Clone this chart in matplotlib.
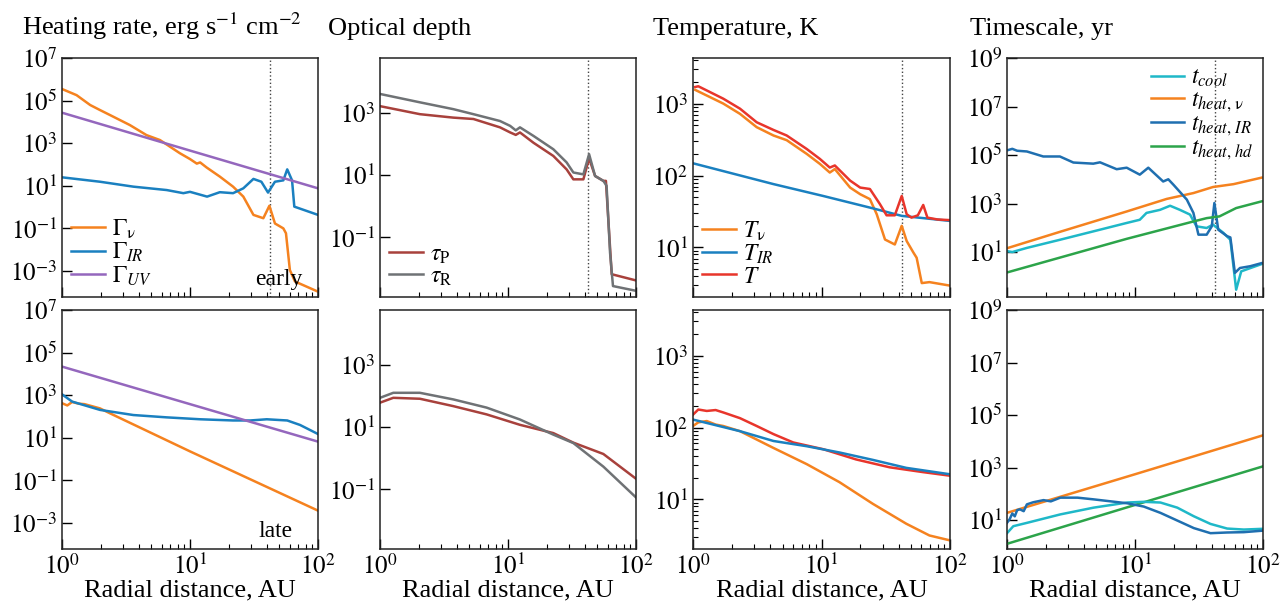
import matplotlib
matplotlib.use("Agg")
import matplotlib.pyplot as plt

plt.rcParams["font.family"] = ["Liberation Serif", "DejaVu Serif"]
plt.rcParams["mathtext.fontset"] = "stix"

# ---- data (r in AU) ----
# Heating rate, early
r_gnu_e = [1.0, 1.3, 1.66, 1.98, 2.37, 3.39, 4.57, 5.83, 8.32, 10.0, 11.3, 12.0, 13.5, 17.1, 21.7,
           26.1, 31.3, 37.4, 41.7, 46.1, 53.6, 56.2, 60.3, 66.1, 100]
g_nu_e = [3.5e5, 1.8e5, 6.2e4, 3.6e4, 2.1e4, 7.1e3, 2.4e3, 1.4e3, 340, 180, 110, 125, 72, 27, 9.1,
          3.1, 0.43, 0.30, 1.15, 0.17, 0.10, 0.059, 1.1e-3, 3.2e-4, 1.07e-4]
r_gir_e = [1.0, 1.98, 3.61, 6.58, 8.87, 10.0, 13.6, 17.1, 21.7, 26.1, 31.3, 36.1, 40.7, 46.1,
           53.6, 57.5, 62.7, 65.3, 100]
g_ir_e = [25, 15.5, 9.1, 6.3, 4.5, 5.2, 3.1, 5.0, 4.5, 7.6, 21, 15.5, 4.8, 15.5,
          18, 59, 18, 1.05, 0.43]
r_guv_e = [1.0, 10.0, 100]
g_uv_e = [2.7e4, 450, 7.6]

# Heating rate, late
r_gnu_l = [1.0, 1.1, 1.2, 1.35, 1.5, 1.98, 2.37, 10.0, 100]
g_nu_l = [420, 330, 480, 400, 380, 240, 141, 2.3, 3.8e-3]
r_gir_l = [1.0, 1.2, 1.98, 3.61, 6.58, 12.0, 21.7, 29.5, 39.8, 57.5, 72.4, 100]
g_ir_l = [1100, 500, 204, 117, 91, 74, 65, 65, 74, 65, 40, 15]
r_guv_l = [1.0, 10.0, 100]
g_uv_l = [2.2e4, 380, 6.6]

# Optical depth, early
r_tau_e = [1.02, 2.05, 3.74, 5.37, 8.66, 10.4, 11.5, 12.4, 15.8, 22.6, 28.7, 32.4, 38.8, 43.0,
           47.9, 55.6, 58.9, 62.7, 66.1, 100]
tau_r_e = [4100, 2240, 1350, 930, 560, 390, 280, 350, 186, 69, 26, 12.3, 10.7, 48,
           9.5, 6.6, 4.6, 0.032, 2.7e-3, 1.9e-3]
r_taup_e = [1.02, 2.05, 3.74, 5.37, 8.66, 10.4, 11.5, 12.4, 15.8, 22.6, 28.7, 32.4, 38.8, 43.0,
            47.9, 55.6, 58.2, 64.6, 100]
tau_p_e = [1660, 930, 720, 650, 350, 240, 200, 240, 112, 42, 15.5, 7.4, 7.4, 35,
           9.5, 6.6, 6.6, 6.5e-3, 4.1e-3]

# Optical depth, late
r_tau_l = [1.0, 1.27, 2.05, 3.74, 6.81, 12.4, 22.6, 32.4, 55.6, 100]
tau_r_l = [89, 129, 129, 79, 43, 17.8, 5.8, 3.1, 0.54, 0.055]
tau_p_l = [62, 89, 83, 48, 26, 12.0, 6.5, 3.2, 1.38, 0.22]

# Temperature, early
r_t_e = [1.04, 1.1, 1.72, 2.32, 3.13, 4.23, 5.36, 7.67, 9.72, 11.6, 12.7, 16.7, 20.0, 23.8,
         28.5, 32.1, 37.2, 42.1, 46.0, 50.1, 56.2, 61.9, 66.7, 80.0, 100]
t_e = [1700, 1740, 1170, 850, 550, 430, 360, 234, 170, 129, 138, 85, 68, 65,
       40, 28, 28, 52, 29, 26, 28, 39, 26, 24.5, 24]
r_tnu_e = [1.04, 1.72, 2.32, 3.13, 4.23, 5.36, 7.67, 9.72, 11.6, 12.7, 16.7, 20.0, 23.8, 26.9,
           31.2, 37.2, 42.1, 46.0, 51.9, 55.0, 60.3, 69.2, 100]
t_nu_e = [1550, 1000, 720, 470, 360, 310, 200, 145, 110, 123, 68, 55, 47, 29,
          12.9, 11.0, 20, 12.3, 8.5, 7.2, 3.2, 3.3, 2.95]
r_tir_e = [1.0, 4.23, 10.3, 25.1, 42.1, 100]
t_ir_e = [148, 76, 52, 35, 27.5, 23.4]

# Temperature, late
r_t_l = [1.0, 1.1, 1.28, 1.5, 1.72, 2.32, 3.13, 4.23, 6.03, 10.3, 18.6, 33.9, 61.7, 100]
t_l = [151, 178, 170, 175, 162, 135, 105, 81, 62, 50, 36, 28, 24, 21.4]
r_tir_l = [1.0, 2.32, 4.23, 7.67, 13.8, 25.1, 45.7, 100]
t_ir_l = [129, 89, 65, 55, 45, 35.5, 27.5, 22.4]
r_tnu_l = [1.0, 1.1, 1.28, 1.5, 1.72, 2.32, 4.23, 7.67, 13.8, 25.1, 45.7, 69.2, 100]
t_nu_l = [105, 118, 123, 110, 105, 89, 52, 31, 17.4, 8.7, 4.6, 3.16, 2.7]

# Timescale, early
r_tir_h_e = [1.02, 1.1, 1.2, 1.43, 1.92, 2.59, 3.3, 4.72, 5.33, 7.19, 8.61, 10.9, 12.7, 16.6,
             18.2, 20.0, 25.4, 28.6, 31.3, 36.3, 39.8, 41.7, 44.7, 52.5, 55.6, 60.3, 66.1,
             79.4, 97.7]
th_ir_e = [1.6e5, 1.8e5, 1.5e5, 1.4e5, 8.7e4, 8.7e4, 4.9e4, 4.4e4, 5.0e4, 2.6e4, 3.0e4, 1.55e4,
           3.0e4, 8.1e3, 1.0e4, 5.9e3, 1.45e3, 410, 52, 52, 115, 1050, 83, 45, 40, 1.38, 2.2,
           2.6, 3.5]
r_tcool_e = [1.02, 1.1, 1.43, 2.59, 4.72, 8.61, 10.9, 12.3, 15.7, 18.8, 22.4, 26.9, 30.2, 36.3,
             40.7, 49.0, 55.6, 61.7, 67.6, 97.7]
t_cool_e = [10.7, 10, 14.8, 32, 71, 158, 214, 410, 550, 810, 550, 350, 115, 98,
            135, 62, 32, 0.28, 1.6, 3.2]
r_thnu_e = [1.02, 2.59, 8.61, 17.7, 28.6, 40.7, 58.9, 97.7]
th_nu_e = [14.8, 68, 470, 1550, 2700, 4800, 6300, 1.17e4]
r_thhd_e = [1.02, 8.61, 28.6, 36.3, 45.7, 61.7, 97.7]
th_hd_e = [1.48, 35, 182, 250, 295, 650, 1230]

# Timescale, late
r_thnu_l = [1.0, 10.0, 100]
th_nu_l = [19, 560, 1.7e4]
r_thhd_l = [1.0, 10.0, 100]
th_hd_l = [1.26, 38, 1120]
r_tcool_l = [1.0, 1.12, 1.43, 2.61, 4.75, 8.71, 11.7, 15.8, 21.4, 28.8, 38.9, 52.5, 70.8, 100]
t_cool_l = [3.2, 5.9, 7.9, 16.6, 30, 47, 50, 47, 30, 14.1, 7.2, 4.8, 4.4, 4.7]
r_thir_l = [1.0, 1.05, 1.1, 1.15, 1.2, 1.26, 1.35, 1.43, 1.6, 1.93, 2.2, 2.61, 3.55, 4.75, 8.71,
            11.7, 15.8, 28.8, 38.9, 52.5, 70.8, 100]
th_ir_l = [7.9, 11, 18, 14, 24, 26, 22, 40, 48, 58, 52, 72, 72, 62, 44,
           33, 19, 5.0, 3.2, 3.4, 3.5, 4.0]

r_marker = 42  # dotted vertical line (early)

# ---- colours ----
c_orange = "#f5821f"
c_blue = "#1a80c0"
c_purple = "#9467bd"
c_red = "#e8352b"
c_brown = "#a8413c"
c_grey = "#6f7275"
c_cyan = "#1fb8c8"
c_dblue = "#1f6fb0"
c_green = "#2ca44a"

W, H = 1282, 605
fig = plt.figure(figsize=(W / 100, H / 100), dpi=100)

cols = [(62, 318), (380, 636), (693, 950), (1007, 1263)]
rows = [(58, 297), (310, 549)]


def make_ax(c, r):
    x0, x1 = cols[c]
    y0, y1 = rows[r]
    ax = fig.add_axes([x0 / W, 1 - y1 / H, (x1 - x0) / W, (y1 - y0) / H])
    ax.set_xscale("log")
    ax.set_yscale("log")
    ax.set_xlim(1, 100)
    ax.tick_params(which="both", direction="in", top=False, right=False, labelsize=18)
    ax.tick_params(which="major", length=7, width=1)
    ax.tick_params(which="minor", length=3.5, width=0.8)
    for s in ax.spines.values():
        s.set_linewidth(1.1)
        s.set_color("#222222")
    if r == 1:
        ax.set_xticks([1, 10, 100], [r"$10^{0}$", r"$10^{1}$", r"$10^{2}$"])
        ax.set_xlabel("Radial distance, AU", fontsize=19, labelpad=0)
    else:
        ax.set_xticks([1, 10, 100], ["", "", ""])
        ax.axvline(r_marker, color="#444444", ls=":", lw=1)
    return ax


def set_yticks(ax, exps, minor=False):
    ax.set_yticks([10.0 ** e for e in exps], [r"$10^{%d}$" % e for e in exps])
    if not minor:
        ax.yaxis.set_minor_locator(matplotlib.ticker.NullLocator())


lw = 1.8
leg_kw = dict(frameon=False, fontsize=17, handlelength=1.4, handletextpad=0.3,
              labelspacing=0.0, borderaxespad=0.0)

# Heating rate
for row in range(2):
    ax = make_ax(0, row)
    ax.set_ylim(6e-5, 1e7)
    set_yticks(ax, [-3, -1, 1, 3, 5, 7])
    if row == 0:
        ax.plot(r_gnu_e, g_nu_e, color=c_orange, lw=lw, label=r"$\Gamma_{\mathrm{\nu}}$")
        ax.plot(r_gir_e, g_ir_e, color=c_blue, lw=lw, label=r"$\Gamma_{IR}$")
        ax.plot(r_guv_e, g_uv_e, color=c_purple, lw=lw, label=r"$\Gamma_{UV}$")
        ax.legend(loc="lower left", **leg_kw)
        ax.text(0.94, 0.03, "early", transform=ax.transAxes, ha="right", va="bottom", fontsize=17)
    else:
        ax.plot(r_gnu_l, g_nu_l, color=c_orange, lw=lw)
        ax.plot(r_gir_l, g_ir_l, color=c_blue, lw=lw)
        ax.plot(r_guv_l, g_uv_l, color=c_purple, lw=lw)
        ax.text(0.90, 0.03, "late", transform=ax.transAxes, ha="right", va="bottom", fontsize=17)

# Optical depth
for row in range(2):
    ax = make_ax(1, row)
    ax.set_ylim(1.2e-3, 6e4)
    set_yticks(ax, [-1, 1, 3])
    if row == 0:
        ax.plot(r_taup_e, tau_p_e, color=c_brown, lw=lw, label=r"$\tau_{\mathrm{P}}$")
        ax.plot(r_tau_e, tau_r_e, color=c_grey, lw=lw, label=r"$\tau_{\mathrm{R}}$")
        ax.legend(loc="lower left", **leg_kw)
    else:
        ax.plot(r_tau_l, tau_p_l, color=c_brown, lw=lw)
        ax.plot(r_tau_l, tau_r_l, color=c_grey, lw=lw)

# Temperature
for row in range(2):
    ax = make_ax(2, row)
    ax.set_ylim(2.05, 4300)
    set_yticks(ax, [1, 2, 3], minor=True)
    if row == 0:
        ax.plot(r_tnu_e, t_nu_e, color=c_orange, lw=lw, label=r"$T_{\mathrm{\nu}}$")
        ax.plot(r_tir_e, t_ir_e, color=c_blue, lw=lw, label=r"$T_{IR}$")
        ax.plot(r_t_e, t_e, color=c_red, lw=lw, label=r"$T$")
        ax.legend(loc="lower left", **leg_kw)
    else:
        ax.plot(r_tnu_l, t_nu_l, color=c_orange, lw=lw)
        ax.plot(r_t_l, t_l, color=c_red, lw=lw)
        ax.plot(r_tir_l, t_ir_l, color=c_blue, lw=lw)

# Timescale
for row in range(2):
    ax = make_ax(3, row)
    set_yticks(ax, [1, 3, 5, 7, 9])
    if row == 0:
        ax.set_ylim(0.14, 1e9)
        ax.plot(r_tcool_e, t_cool_e, color=c_cyan, lw=lw, label=r"$t_{cool}$")
        ax.plot(r_thnu_e, th_nu_e, color=c_orange, lw=lw, label=r"$t_{heat,\,\mathrm{\nu}}$")
        ax.plot(r_tir_h_e, th_ir_e, color=c_dblue, lw=lw, label=r"$t_{heat,\,IR}$")
        ax.plot(r_thhd_e, th_hd_e, color=c_green, lw=lw, label=r"$t_{heat,\,hd}$")
        ax.legend(loc="upper right", **leg_kw)
    else:
        ax.set_ylim(0.8, 1e9)
        ax.plot(r_thnu_l, th_nu_l, color=c_orange, lw=lw)
        ax.plot(r_thhd_l, th_hd_l, color=c_green, lw=lw)
        ax.plot(r_tcool_l, t_cool_l, color=c_cyan, lw=lw)
        ax.plot(r_thir_l, th_ir_l, color=c_dblue, lw=lw)

titles = ["Heating rate, erg s$^{-1}$ cm$^{-2}$", "Optical depth", "Temperature, K", "Timescale, yr"]
title_x = [22, 328, 653, 970]
for t, x in zip(titles, title_x):
    fig.text(x / W, 1 - 35 / H, t, fontsize=19, ha="left", va="baseline")

fig.savefig("out.png", dpi=100)
